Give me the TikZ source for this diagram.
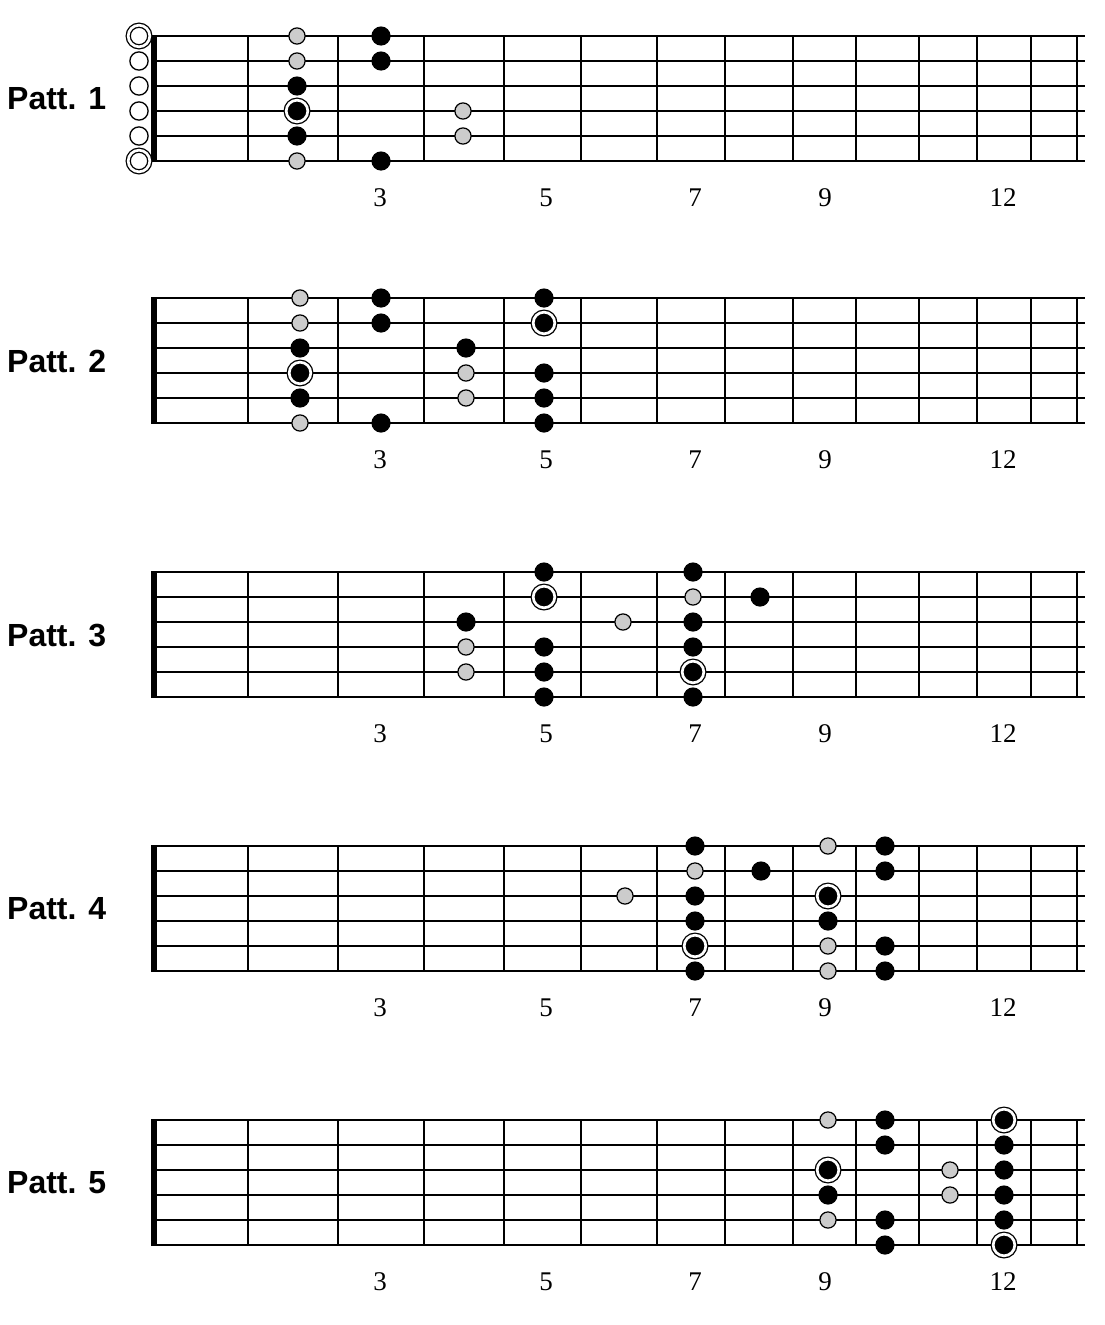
\documentclass[tikz,border=0pt]{standalone}
\usepackage{fontspec}
\setmainfont{Liberation Serif}
\setsansfont{Liberation Sans}
\begin{document}
\begin{tikzpicture}[x=1pt, y=-1pt,
    string/.style={line width=1.6pt},
    fret/.style={line width=2.1pt},
    nut/.style={line width=6pt},
    patt/.style={font=\sffamily\bfseries\fontsize{32}{32}\selectfont, anchor=west, inner sep=0pt},
    fretnum/.style={font=\fontsize{27}{27}\selectfont, anchor=base, inner sep=0pt},
    blk/.style={circle, fill=black, inner sep=0pt, minimum size=19.2pt},
    gry/.style={circle, draw=black, fill=gray!40, line width=1.2pt, inner sep=0pt, minimum size=16.2pt},
    root/.style={circle, fill=black, draw=black, double=white, double distance=2.7pt, line width=1.3pt, inner sep=0pt, minimum size=21.6pt},
    opnroot/.style={root, fill=white},
    opn/.style={circle, draw=black, fill=white, line width=1.3pt, inner sep=0pt, minimum size=18.2pt}]
    \useasboundingbox (0,0) rectangle (1104,1325);

    % Define fretboards
    \foreach \p/\ytop in {1/36, 2/298, 3/572, 4/846, 5/1120} {
        \foreach \s in {0,...,5}
            \draw[string] (151, \ytop+25*\s) -- (1085, \ytop+25*\s);
        \foreach \f in {248, 338, 424, 504, 581, 657, 725, 793, 856, 919, 977, 1031, 1077}
            \draw[fret] (\f, \ytop) -- (\f, \ytop+125);
        \draw[nut] (154, \ytop-0.8) -- (154, \ytop+125.8);
        \node[patt] (label\p) at (7, \ytop+63) {Patt. \p};
        \foreach \n/\x in {3/380, 5/546, 7/695, 9/825, 12/1003}
            \node[fretnum] (num\p-\n) at (\x, \ytop+170) {\n};
    }

    % Pattern 1
    \foreach \x/\s/\k [count=\i] in {139/0/opnroot, 139/1/opn, 139/2/opn, 139/3/opn, 139/4/opn, 139/5/opnroot,
        297/0/gry, 297/1/gry, 297/2/blk, 297/3/root, 297/4/blk, 297/5/gry,
        381/0/blk, 381/1/blk, 381/5/blk,
        463/3/gry, 463/4/gry}
        \node[\k] (p1-\i) at (\x, 36+25*\s) {};

    % Pattern 2
    \foreach \x/\s/\k [count=\i] in {300/0/gry, 300/1/gry, 300/2/blk, 300/3/root, 300/4/blk, 300/5/gry,
        381/0/blk, 381/1/blk, 381/5/blk,
        466/2/blk, 466/3/gry, 466/4/gry,
        544/0/blk, 544/1/root, 544/3/blk, 544/4/blk, 544/5/blk}
        \node[\k] (p2-\i) at (\x, 298+25*\s) {};

    % Pattern 3
    \foreach \x/\s/\k [count=\i] in {466/2/blk, 466/3/gry, 466/4/gry,
        544/0/blk, 544/1/root, 544/3/blk, 544/4/blk, 544/5/blk,
        623/2/gry,
        693/0/blk, 693/1/gry, 693/2/blk, 693/3/blk, 693/4/root, 693/5/blk,
        760/1/blk}
        \node[\k] (p3-\i) at (\x, 572+25*\s) {};

    % Pattern 4
    \foreach \x/\s/\k [count=\i] in {625/2/gry,
        695/0/blk, 695/1/gry, 695/2/blk, 695/3/blk, 695/4/root, 695/5/blk,
        761/1/blk,
        828/0/gry, 828/2/root, 828/3/blk, 828/4/gry, 828/5/gry,
        885/0/blk, 885/1/blk, 885/4/blk, 885/5/blk}
        \node[\k] (p4-\i) at (\x, 846+25*\s) {};

    % Pattern 5
    \foreach \x/\s/\k [count=\i] in {828/0/gry, 828/2/root, 828/3/blk, 828/4/gry,
        885/0/blk, 885/1/blk, 885/4/blk, 885/5/blk,
        950/2/gry, 950/3/gry,
        1004/0/root, 1004/1/blk, 1004/2/blk, 1004/3/blk, 1004/4/blk, 1004/5/root}
        \node[\k] (p5-\i) at (\x, 1120+25*\s) {};

\end{tikzpicture}
\end{document}
